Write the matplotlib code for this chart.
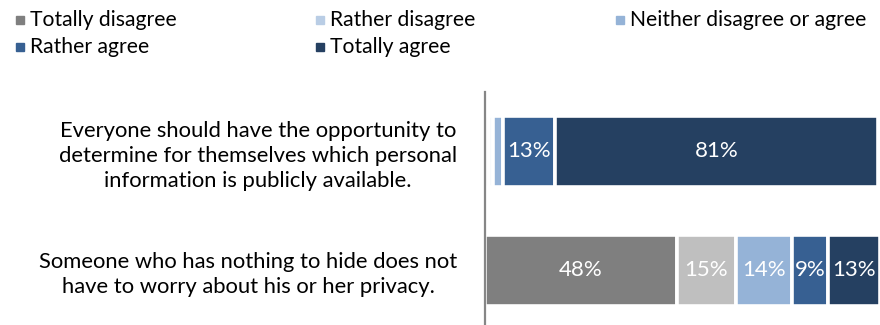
import matplotlib.pyplot as plt
from matplotlib.patches import Rectangle

plt.rcParams['font.family'] = ['Lato', 'DejaVu Sans']

# data
statements = [
    "Someone who has nothing to hide does not\nhave to worry about his or her privacy.",
    "Everyone should have the opportunity to\ndetermine for themselves which personal\ninformation is publicly available.",
]
categories = ["Totally disagree", "Rather disagree", "Neither disagree or agree",
              "Rather agree", "Totally agree"]
values = [
    [48, 15, 14, 9, 13],
    [1, 1, 2.5, 13, 81],
]
legend_colors = ["#7f7f7f", "#b9cde5", "#95b3d7", "#376092", "#254061"]
bar_colors = [
    ["#7f7f7f", "#bfbfbf", "#95b3d7", "#376092", "#254061"],
    ["#f2f2f2", "#dce6f2", "#95b3d7", "#376092", "#254061"],
]

fig = plt.figure(figsize=(8.8, 3.25), dpi=100)
ax = fig.add_axes([485 / 880, 0, 1 - 485 / 880, 1 - 92 / 325])

for row, vals in enumerate(values):
    left = 0
    for i, v in enumerate(vals):
        ax.barh(row, v, left=left, height=0.6, color=bar_colors[row][i],
                edgecolor="white", linewidth=2.6)
        if v >= 5:
            ax.text(left + v / 2, row, f"{v:g}%", ha="center", va="center",
                    color="white", fontsize=16)
        left += v

ax.set_xlim(0, 99)
ax.set_ylim(-0.46, 1.5)
ax.set_xticks([])
ax.set_yticks(range(len(statements)))
ax.set_yticklabels(statements, fontsize=15.8, multialignment="center",
                   linespacing=1.3)
ax.tick_params(axis="y", length=0, pad=20)
for s in ["top", "right", "bottom"]:
    ax.spines[s].set_visible(False)
ax.spines["left"].set_color("#868686")
ax.spines["left"].set_linewidth(1.6)

# legend, laid out row by row like the original
W, H = 880, 325
for k, (name, col) in enumerate(zip(categories, legend_colors)):
    cx = 16 + 300 * (k % 3)
    cy = 20 + 27 * (k // 3)
    fig.patches.append(Rectangle((cx / W, 1 - (cy + 4) / H), 8 / W, 8 / H,
                                 transform=fig.transFigure, color=col))
    fig.text((cx + 14) / W, 1 - cy / H, name, fontsize=15.2, va="center",
             ha="left")

fig.savefig("out.png", dpi=100)
